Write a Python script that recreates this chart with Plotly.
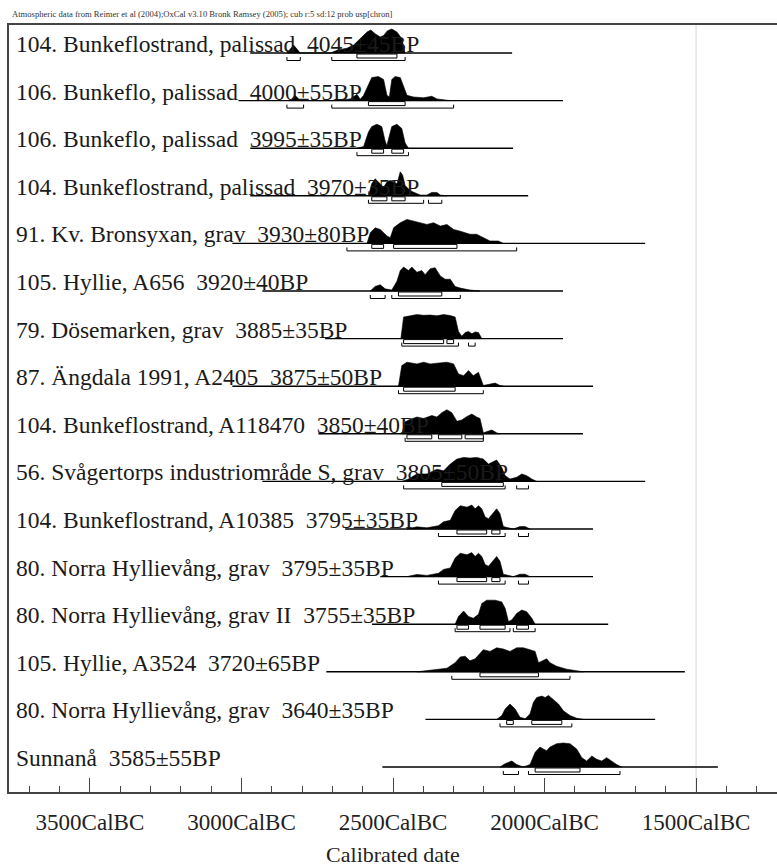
import plotly.graph_objects as go

# --- data (years BC, relative probability) ---
labels = [
    "104. Bunkeflostrand, palissad  4045±45BP",
    "106. Bunkeflo, palissad  4000±55BP",
    "106. Bunkeflo, palissad  3995±35BP",
    "104. Bunkeflostrand, palissad  3970±35BP",
    "91. Kv. Bronsyxan, grav  3930±80BP",
    "105. Hyllie, A656  3920±40BP",
    "79. Dösemarken, grav  3885±35BP",
    "87. Ängdala 1991, A2405  3875±50BP",
    "104. Bunkeflostrand, A118470  3850±40BP",
    "56. Svågertorps industriområde S, grav  3805±50BP",
    "104. Bunkeflostrand, A10385  3795±35BP",
    "80. Norra Hyllievång, grav  3795±35BP",
    "80. Norra Hyllievång, grav II  3755±35BP",
    "105. Hyllie, A3524  3720±65BP",
    "80. Norra Hyllievång, grav  3640±35BP",
    "Sunnanå  3585±55BP",
]

line_start = [2971, 3010, 2971, 2971, 3030, 2931, 2724, 3030,
              2746, 2931, 2658, 2542, 2569, 2720, 2393, 2535]
line_end = [2107, 1939, 2104, 2054, 1668, 1939, 1939, 1840,
            1873, 1668, 1840, 1840, 1790, 1537, 1635, 1428]

dens_bc = [
    [2850, 2828, 2806, 2707, 2685, 2652, 2630, 2608, 2586, 2573, 2559, 2542, 2531, 2518, 2504, 2487, 2471, 2460],
    [2839, 2823, 2806, 2696, 2641, 2619, 2608, 2597, 2581, 2570, 2548, 2531, 2520, 2512, 2504, 2493, 2476, 2465,
     2454, 2432, 2399, 2372, 2355, 2311],
    [2619, 2597, 2581, 2570, 2553, 2537, 2526, 2520, 2515, 2504, 2487, 2471, 2460, 2449],
    [2581, 2570, 2559, 2548, 2531, 2520, 2509, 2487, 2476, 2468, 2460, 2443, 2427, 2410, 2388, 2372, 2355, 2344, 2322],
    [2586, 2575, 2559, 2542, 2520, 2509, 2498, 2476, 2454, 2432, 2410, 2388, 2366, 2344, 2322, 2300, 2278, 2246,
     2224, 2202, 2180, 2152, 2136],
    [2575, 2559, 2542, 2526, 2504, 2487, 2476, 2465, 2449, 2438, 2421, 2405, 2394, 2377, 2361, 2344, 2328, 2311,
     2295, 2278, 2246, 2213],
    [2474, 2465, 2443, 2421, 2399, 2377, 2355, 2333, 2311, 2295, 2284, 2273, 2262, 2251, 2240, 2229, 2218, 2207],
    [2482, 2471, 2454, 2421, 2399, 2377, 2355, 2322, 2300, 2284, 2267, 2251, 2235, 2218, 2202, 2180, 2163, 2147, 2136],
    [2471, 2460, 2443, 2421, 2399, 2372, 2355, 2339, 2322, 2306, 2289, 2273, 2256, 2240, 2224, 2213, 2202, 2174,
     2158, 2147],
    [2471, 2449, 2421, 2388, 2355, 2333, 2311, 2289, 2267, 2246, 2224, 2202, 2185, 2174, 2158, 2141, 2130, 2114,
     2092, 2075, 2059, 2042, 2026],
    [2454, 2421, 2388, 2350, 2333, 2311, 2295, 2278, 2256, 2240, 2229, 2218, 2207, 2196, 2185, 2169, 2158, 2147,
     2136, 2103, 2081, 2064, 2048],
    [2454, 2421, 2388, 2350, 2333, 2311, 2295, 2278, 2256, 2240, 2229, 2218, 2207, 2196, 2185, 2169, 2158, 2147,
     2136, 2103, 2081, 2064, 2048],
    [2295, 2284, 2267, 2251, 2235, 2218, 2207, 2191, 2163, 2141, 2130, 2119, 2108, 2092, 2075, 2059, 2042, 2031],
    [2421, 2355, 2322, 2295, 2278, 2262, 2246, 2229, 2213, 2202, 2180, 2158, 2136, 2114, 2092, 2070, 2048, 2031,
     2020, 2004, 1993, 1982, 1960, 1927, 1894, 1872],
    [2158, 2141, 2130, 2114, 2097, 2081, 2064, 2048, 2037, 2026, 2009, 1998, 1987, 1971, 1954, 1938, 1916, 1894, 1872],
    [2147, 2130, 2108, 2092, 2070, 2048, 2031, 2015, 2004, 1993, 1982, 1960, 1938, 1916, 1894, 1877, 1861, 1844,
     1828, 1811, 1795, 1778, 1762, 1745],
]
dens_p = [
    [0, .33, 0, 0, .11, .2, .33, .6, .87, .96, .8, .67, .73, .93, 1.0, .87, .6, 0],
    [0, .22, 0, 0, .07, .26, .06, .22, .66, .96, 1.0, .88, .22, .15, .88, 1.0, .96, .59, .22, .15, .12, .18, .07, 0],
    [0, .07, .67, .9, 1.0, .9, .3, .1, .37, .9, 1.0, .82, .22, 0],
    [0, .5, .71, .57, .36, .57, .64, .5, 1.0, .86, .43, .21, .11, .03, .03, .14, .14, .03, 0],
    [0, .44, .65, .58, .31, .24, .65, .86, 1.0, .93, .86, .79, .86, .72, .79, .58, .51, .38, .38, .24, .1, .1, 0],
    [0, .19, .26, .09, .04, .41, .85, 1.0, .85, 1.0, .78, .85, .68, .93, .97, .63, .49, .49, .19, .12, .04, 0],
    [0, .9, .95, 1.0, .97, .98, .95, 1.0, .96, .9, .3, .1, .25, .3, .2, .28, .25, 0],
    [0, .86, 1.0, .93, 1.0, .93, .96, 1.0, .93, .51, .44, .65, .44, .58, .03, .1, .13, .03, 0],
    [0, .5, .6, .7, .64, .76, .7, .88, 1.0, .88, .52, .58, .72, .82, .7, .64, .04, .16, .04, 0],
    [0, .1, .31, .31, .51, .44, .72, .93, 1.0, .97, 1.0, .93, .72, .79, .89, .58, .24, .1, .17, .31, .24, .1, 0],
    [0, .09, .05, .14, .3, .36, .77, .97, .91, 1.0, .84, .97, .84, .5, .43, .7, .84, .64, .1, 0, .1, .1, 0],
    [0, .09, .05, .14, .3, .36, .77, .97, .91, 1.0, .84, .97, .84, .5, .43, .7, .84, .64, .1, 0, .1, .1, 0],
    [0, .32, .55, .32, .25, .41, .86, 1.0, 1.0, .93, .66, .11, .18, .45, .59, .52, .25, 0],
    [0, .08, .15, .38, .62, .65, .46, .54, .77, .92, .85, 1.0, .95, .85, 1.0, 1.0, .92, .85, .38, .46, .54, .38,
     .23, .11, .03, 0],
    [0, .16, .43, .64, .43, .09, .03, .23, .7, .91, .97, .91, 1.0, .84, .64, .36, .16, .05, 0],
    [0, .14, .25, .1, 0, .1, .61, .83, .75, .68, .83, .97, 1.0, .97, .75, .39, .25, .46, .32, .25, .39, .25, .1, 0],
]

# 68.2% ranges (open boxes) and 95.4% ranges (lines)
range68 = [
    [(2619, 2487)],
    [(2581, 2460)],
    [(2570, 2531), (2504, 2465)],
    [(2570, 2520), (2504, 2460)],
    [(2570, 2531), (2498, 2289)],
    [(2482, 2339)],
    [(2465, 2333), (2322, 2300)],
    [(2465, 2295)],
    [(2454, 2372), (2350, 2273), (2262, 2202)],
    [(2339, 2136)],
    [(2289, 2191), (2174, 2147)],
    [(2289, 2191), (2174, 2147)],
    [(2289, 2251), (2213, 2130), (2092, 2053)],
    [(2213, 2020)],
    [(2125, 2103), (2042, 1943)],
    [(2031, 1883)],
]
range95 = [
    [(2850, 2806), (2702, 2460)],
    [(2850, 2795), (2702, 2300)],
    [(2619, 2449)],
    [(2581, 2399), (2383, 2339)],
    [(2652, 2092)],
    [(2575, 2526), (2504, 2278)],
    [(2471, 2284), (2251, 2229)],
    [(2482, 2202)],
    [(2460, 2202)],
    [(2465, 2130), (2092, 2053)],
    [(2350, 2130), (2086, 2053)],
    [(2350, 2130), (2086, 2053)],
    [(2295, 2114), (2103, 2031)],
    [(2306, 1916)],
    [(2147, 1910)],
    [(2136, 2086), (2053, 1751)],
]

major_ticks = [3500, 3000, 2500, 2000, 1500]
tick_text = [f"{t}CalBC" for t in major_ticks]

title_text = ("Atmospheric data from Reimer et al (2004);OxCal v3.10 Bronk Ramsey (2005); "
              "cub r:5 sd:12 prob usp[chron]")

# --- styling ---
FONT = "Liberation Serif, Times New Roman, serif"
ROW_PX = 47.6          # vertical spacing of rows in pixels
PEAK = 24 / ROW_PX     # height of a normalised distribution
BOX_TOP, BOX_BOT = 1 / ROW_PX, 5 / ROW_PX
R95_Y, R95_TICK = 7.5 / ROW_PX, 4 / ROW_PX

fig = go.Figure()

# baselines
bx, by = [], []
for i, (s, e) in enumerate(zip(line_start, line_end)):
    bx += [s, e, None]
    by += [i, i, None]
fig.add_trace(go.Scatter(x=bx, y=by, mode="lines", line=dict(color="black", width=1.4),
                         hoverinfo="skip", showlegend=False))

# probability distributions
for i, (xs, ps) in enumerate(zip(dens_bc, dens_p)):
    px_ = list(xs) + [xs[-1], xs[0]]
    py_ = [i - p * PEAK for p in ps] + [i, i]
    fig.add_trace(go.Scatter(x=px_, y=py_, mode="lines", fill="toself", fillcolor="black",
                             line=dict(color="black", width=0.6), hoverinfo="skip", showlegend=False))

# range boxes and lines
rx, ry = [], []
for i, boxes in enumerate(range68):
    for a, b in boxes:
        rx += [a, b, b, a, a, None]
        ry += [i + BOX_TOP, i + BOX_TOP, i + BOX_BOT, i + BOX_BOT, i + BOX_TOP, None]
for i, segs in enumerate(range95):
    for a, b in segs:
        rx += [a, a, b, b, None]
        ry += [i + R95_TICK, i + R95_Y, i + R95_Y, i + R95_TICK, None]
fig.add_trace(go.Scatter(x=rx, y=ry, mode="lines", line=dict(color="black", width=1),
                         hoverinfo="skip", showlegend=False))

# row labels
for i, lab in enumerate(labels):
    fig.add_annotation(x=0, xref="paper", xanchor="left", xshift=5,
                       y=i, yref="y", yanchor="bottom", yshift=-6,
                       text=lab.replace("  ", "\u00a0\u00a0"), showarrow=False,
                       font=dict(family=FONT, size=23.5, color="#1a1a1a"))

fig.add_annotation(x=0, xref="paper", xanchor="left", xshift=1,
                   y=1, yref="paper", yanchor="bottom", yshift=4,
                   text=title_text, showarrow=False,
                   font=dict(family=FONT, size=8.6, color="#333"))

fig.add_vline(x=1500, line=dict(color="#e4e4e4", width=1.5), layer="below")

fig.update_layout(
    width=777, height=867,
    margin=dict(l=9, r=0, t=25, b=75),
    paper_bgcolor="white", plot_bgcolor="white",
    font=dict(family=FONT, color="#222"),
    xaxis=dict(
        range=[3767, 1233], showgrid=False, zeroline=False,
        showline=True, linecolor="#444", linewidth=2, mirror=True,
        ticks="inside", ticklen=14, tickwidth=1.2, tickcolor="#444",
        tickvals=major_ticks, ticktext=tick_text,
        tickfont=dict(family=FONT, size=23, color="#222"),
        ticklabelstandoff=8,
        minor=dict(dtick=100, tick0=0, ticks="inside", ticklen=6, tickwidth=1, tickcolor="#444"),
        title=dict(text="Calibrated date", font=dict(family=FONT, size=22, color="#222"), standoff=14),
    ),
    yaxis=dict(
        range=[(792 - 53) / ROW_PX, -(53 - 25) / ROW_PX], showgrid=False, zeroline=False,
        showline=True, linecolor="#444", linewidth=2, showticklabels=False, ticks="",
    ),
)

# page body has a default 8px margin; drop it so the figure sits at the window corner
fig.write_html("out.html", config={"displayModeBar": False},
               post_script="document.body.style.margin='0';")
